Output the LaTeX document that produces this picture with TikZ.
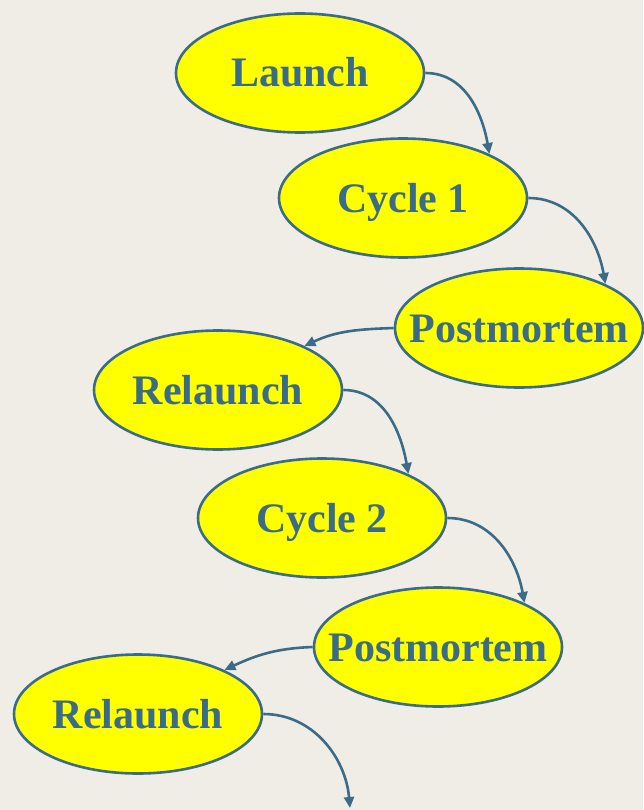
\documentclass[tikz,border=0pt]{standalone}
\usepackage{fontspec}
\setmainfont{Liberation Serif}
\usetikzlibrary{shapes.geometric,arrows.meta}
\definecolor{paper}{HTML}{F0EDE7}
\definecolor{ink}{HTML}{3A6C88}
\definecolor{stagefill}{HTML}{FFFF00}
\newcommand{\stagetext}[1]{\makebox[0pt]{#1}}
\begin{document}
\begin{tikzpicture}[x=1pt,y=1pt,
  stage/.style={ellipse, draw=ink, line width=2.6pt, fill=stagefill,
    minimum width=248pt, minimum height=119pt, inner sep=0pt,
    text height=28pt, text depth=0pt,
    text=ink, font=\fontsize{42}{46}\selectfont\bfseries},
  flow/.style={draw=ink, line width=2.6pt,
    -{Triangle[length=11pt,width=10pt]}}]
  % page and background
  \fill[paper] (0,0) rectangle (643,-810);
  \useasboundingbox (0,0) rectangle (643,-810);
  % stages
  \node[stage] (launch) at (300,-73) {\stagetext{Launch}};
  \node[stage] (cycA) at (403,-198) {\stagetext{Cycle 1}};
  \node[stage] (pmA) at (519,-328) {\stagetext{Postmortem}};
  \node[stage] (relA) at (218,-390) {\stagetext{Relaunch}};
  \node[stage] (cycB) at (322,-518) {\stagetext{Cycle 2}};
  \node[stage] (pmB) at (438,-647) {\stagetext{Postmortem}};
  \node[stage] (relB) at (138,-714) {\stagetext{Relaunch}};
  \coordinate (next) at (350,-808);
  % transitions
  \draw[flow] (launch.east) to[out=0,in=100] (cycA.27);
  \draw[flow] (cycA.east) to[out=0,in=100] (pmA.27);
  \draw[flow] (pmA.west) to[out=182,in=25] (relA.27);
  \draw[flow] (relA.east) to[out=0,in=100] (cycB.27);
  \draw[flow] (cycB.east) to[out=0,in=100] (pmB.27);
  \draw[flow] (pmB.west) to[out=182,in=25] (relB.27);
  \draw[flow] (relB.east) to[out=0,in=95] (next);
\end{tikzpicture}
\end{document}
